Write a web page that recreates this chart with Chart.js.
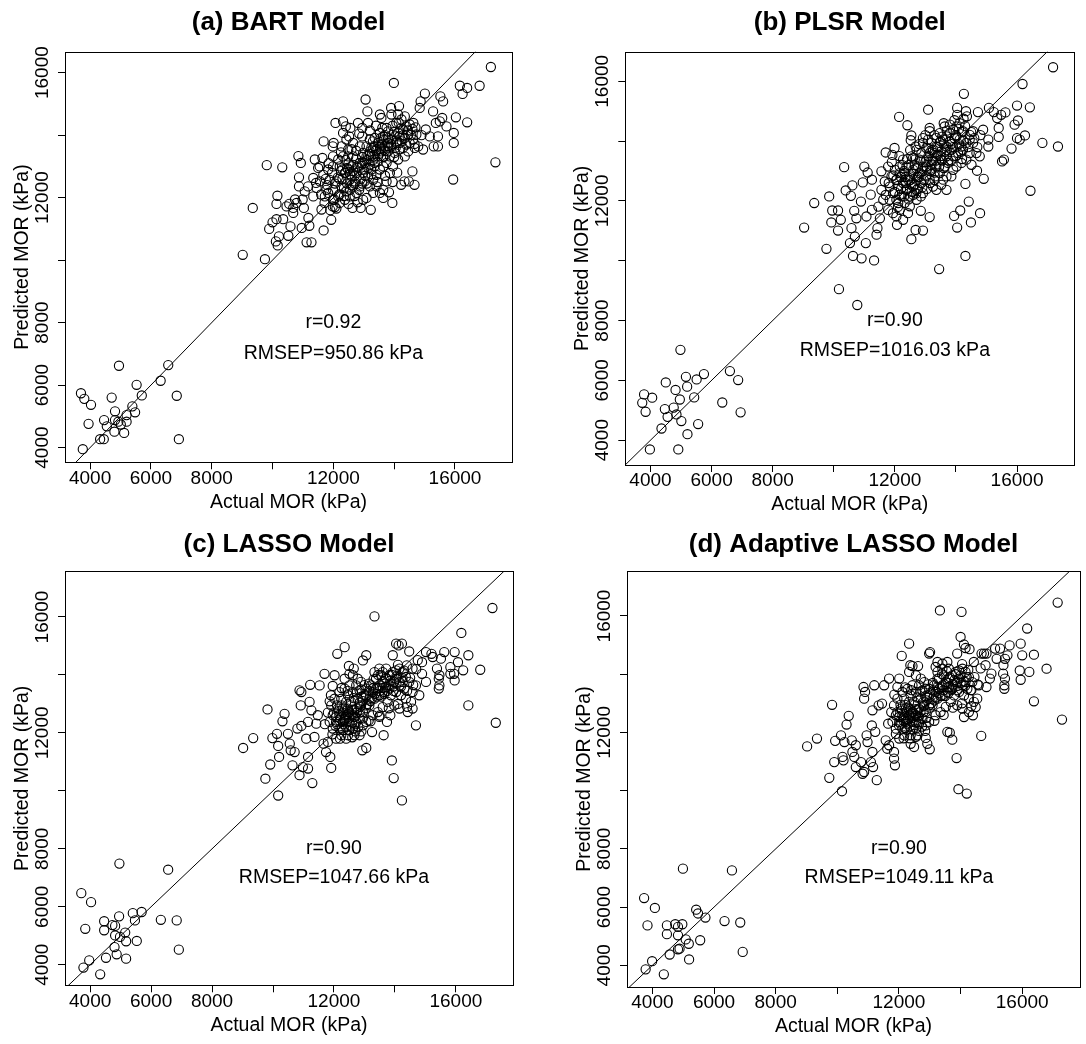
<!DOCTYPE html>
<html><head><meta charset="utf-8">
<script src="https://cdn.jsdelivr.net/npm/chart.js@4.4.1/dist/chart.umd.min.js"></script>
<style>
html,body{margin:0;padding:0;background:#fff;overflow:hidden;width:1086px;height:1044px;}
canvas{position:absolute;}
</style></head><body>
<canvas id="ca" width="543" height="522" style="left:0;top:0"></canvas>
<canvas id="cb" width="543" height="522" style="left:543px;top:0"></canvas>
<canvas id="cc" width="543" height="522" style="left:0;top:522px"></canvas>
<canvas id="cd" width="543" height="522" style="left:543px;top:522px"></canvas>
<script>
// ---------- DATA ----------
const xTickValues = [4000, 6000, 8000, 10000, 12000, 14000, 16000];
const xTickLabels = ['4000', '6000', '8000', '', '12000', '', '16000'];
const yTickValues = [4000, 6000, 8000, 10000, 12000, 14000, 16000];
const yTickLabels = ['4000', '6000', '8000', '', '12000', '', '16000'];
const xRange = [3175, 17875];
const bartYRange = [3530, 16670];
const plsrYRange = [3170, 16990];
const lassoYRange = [3290, 17577];
const alassoYRange = [3254, 17546];
const refLine = [2000, 20000];
const noteX = 12000;
const noteY = [8000, 7000];
const panelTitles = ['(a) BART Model', '(b) PLSR Model', '(c) LASSO Model', '(d) Adaptive LASSO Model'];
const rTexts = ['r=0.92', 'r=0.90', 'r=0.90', 'r=0.90'];
const rmsepTexts = ['RMSEP=950.86 kPa', 'RMSEP=1016.03 kPa', 'RMSEP=1047.66 kPa', 'RMSEP=1049.11 kPa'];

// (a) BART: [actual, predicted]
const bartPoints = [
[3700,5740],[3810,5560],[4030,5370],[4710,5600],[4950,6620],[5530,6010],[5700,5670],[6570,6640],[6320,6140],[6850,5660],[6920,4270],[3950,4760],[3760,3950],[4330,4270],[4450,4270],[4460,4880],[4550,4680],[4820,5160],[4820,4880],[4800,4510],[4930,4830],[5010,4740],[5120,4470],[5200,5040],[5200,4830],[5390,5320],[5480,5130],
[9020,10170],[9350,11670],[9750,10030],[9810,13040],[10320,12970],[10160,12060],[10130,11800],[10130,11310],[9890,11000],[10000,11210],[10110,10600],[10210,10760],[10170,10470],[10520,10780],[10350,11310],[10550,11800],[10590,11080],[10680,11510],[10740,11940],[10850,13330],[10930,13110],[10870,12650],[10870,12360],[10990,11940],[11030,11670],[10960,11030],[11120,10570],[11280,10570],[11210,11100],[11180,11350],[11340,12040],[11430,12470],[11390,13220],[11500,12950],[11640,13270],[11680,13800],[11610,11620],[11680,10950],[11710,11830],[11770,12250],[11960,12790],[11980,13640],[12010,13750],[12070,14390],[11980,11720],[11930,11290],[12030,11940],[12320,14440],[12410,14280],[12520,13960],[12560,14230],[12810,14390],[12630,11670],[12900,11670],[13090,11990],[13230,11610],[12950,13960],[13060,15140],[13120,14760],[13140,14390],[12950,14230],[13530,14660],[13580,14550],[13610,14230],[13900,14870],[13990,15670],[14160,14930],[13910,14660],[14130,14660],[13940,11830],[13830,12170],[14230,12410],[14340,12520],[14480,12520],[14670,12410],[14600,12840],[14790,13640],[14950,13540],[14870,15080],[15010,15330],[14840,14870],[14630,14390],[15040,14180],[15280,14760],[15520,15240],[15610,15080],[15500,14440],[15370,14390],[15580,14550],[15440,13960],[15440,13640],[15300,13640],[15720,14280],[15960,14070],[16030,14570],[15960,13750],[15940,12580],[16160,15580],[16250,15320],[16400,15510],[16400,14410],[16810,15580],[17180,16180],[17330,13130],[15170,13960],[14670,13720],
[12210,13000],[12380,12790],[12540,12570],[12100,12520],[12270,12360],[12430,12200],[12650,12360],[12760,12790],[12870,13110],[12650,13320],[12490,13540],[12320,13320],[12160,13220],[11990,13000],[11880,12570],[11830,12150],[11990,12250],[12160,12040],[12380,11930],[12540,12040],[12760,12150],[12870,12360],[13030,12520],[13140,12680],[13250,12900],[13360,13110],[13470,13320],[13580,13480],[13690,13640],[13800,13750],[13910,13860],[14020,13960],[14130,14070],[14290,14180],[14400,14280],[14510,14340],[14180,13750],[14290,13590],[14020,13430],[13860,13320],[13750,13110],[13640,13000],[13530,12900],[13420,12730],[13310,12570],[13200,12360],[13420,12360],[13640,12250],[13750,12520],[13860,12790],[13960,13000],[14130,13220],[14350,13320],[14460,13480],[14620,13860],[14730,14020],[14460,14020],[14240,14500],[14350,14600],[14070,14390],[13800,14120],[13640,13960],[13470,13750],[13310,13590],[13200,13480],[13090,13320],[12980,13430],[12870,13640],[12650,13750],[12430,13860],[12270,13640],[12320,14070],[12490,13320],[12600,13000],[12810,12950],[12980,12790],[13030,13110],[13200,13060],[13310,13320],[13420,13540],[13530,13640],[13640,13320],[13800,13480],[13910,13640],[14070,13750],[14180,13960],[14350,13910],[14510,13750],[14680,13590],[13200,13860],[13360,13910],[13530,14070],[13750,14230],[13090,13640],[12600,12680],[12710,12520],[12490,12900],[11990,13320],[11830,12900],[11670,12730],[11560,12520],[11450,12310],[11720,12040],[11990,11930],[12210,11830],[11340,12630],[11170,12360],[11060,12200],[10790,11830],[10680,11670],[10460,11720],[12980,11930],[13310,12150],[13530,12150],[13640,11990],
[12300,12600],[12400,12800],[12500,13100],[12600,12400],[12700,12700],[12800,13000],[12350,12300],[12450,12950],[12550,12750],[12650,13050],[12250,12850],[12150,12650],[12700,12450],[12900,12600],[13000,12900],[13100,13200],[13200,13400],[13300,13200],[13400,13500],[13500,13400],[13600,13700],[13700,13500],[13800,13900],[13900,13700],[14000,14100],[14100,13800],[14200,14200],[13650,13850],[13350,13650],[13150,12950],[12050,12450],[12950,13300],
[11600,12100],[11750,12600],[11850,13100],[11900,11600],[12050,11700],[12200,12100],[12250,13450],[12400,13200],[12350,12050],[12550,12250],[12600,13550],[12750,13250],[12700,12050],[12850,12250],[12950,12450],[13050,12700],[12950,13100],[13150,13350],[13250,12750],[13350,13000],[13300,13800],[13450,13150],[13550,13550],[13650,13300],[13700,14000],[13850,13600],[13950,14300],[14050,13600],[14150,14400],[14250,13800],[14300,14000],[14400,13700],[14450,14150],[14550,14000],[14600,14200],[14100,12800],[13950,12500],[13700,12700],[13450,12500],[12800,11850],[12500,11800],[12100,11650],[11800,12400],[11550,13000],[12850,14050],[13200,14150],[13400,14300],[12750,13500],[12450,12450],[12300,12900],[12200,12600],[12650,12850],[13100,12450],[13250,13600],[13550,13900],[13800,13650],[14000,13300],[14200,13550],[14700,14250],[14900,14000]
];

// (b) PLSR
const plsrPoints = [
[3790,5530],[3730,5250],[3840,4950],[4055,5420],[3980,3690],[4360,4390],[4500,5930],[4470,5040],[4560,4780],[4820,5680],[4760,5090],[4850,4860],[4960,5360],[4910,3690],[4980,7020],[5010,4640],[5160,6120],[5200,5790],[5210,4200],[5430,5430],[5510,6030],[5560,4540],[5750,6210],[6350,5260],[6600,6310],[6870,6010],[6950,4930],
[9030,11110],[9360,11930],[9760,10400],[9850,12150],[9950,11680],[9920,11280],[10140,11680],[10140,11010],[10170,9050],[10230,11370],[10340,13130],[10390,12350],[10560,12170],[10610,12520],[10670,11670],[10740,11420],[10770,8520],[10630,10160],[10910,10080],[10580,11090],[10530,10590],[10690,10810],[10890,11980],[10950,12620],[11000,13150],[11110,12950],[11250,12710],[11210,12210],[11250,11700],[11070,11480],[11050,10590],[11320,10010],[11400,10870],[11430,11090],[11510,11420],[11460,11810],[11560,12990],[11700,13620],[11990,13770],[11920,13540],[12140,14810],[12410,14530],[12540,14190],[12520,14030],[12680,13820],[12920,14100],[13090,15050],[13140,14440],[13140,14330],[12070,11200],[12430,11590],[12540,10720],[12680,11030],[12920,11010],[12850,11670],[13140,11460],[13450,9720],[13940,11500],[14040,11110],[14140,11680],[14310,10160],[14420,11980],[14490,11280],[14790,11590],[14310,12570],[14910,12740],[14690,13010],[14260,15580],[14040,15110],[14330,15000],[14360,14830],[14040,14880],[14720,14970],[15080,15110],[15240,14970],[15350,14770],[15620,14960],[15480,14880],[16000,15190],[16420,15130],[16180,15910],[16030,14690],[15920,14550],[16000,14100],[16090,14050],[16260,14190],[15820,13750],[15400,14440],[15400,14140],[15510,13320],[15570,13380],[16440,12340],[16830,13940],[17180,16470],[17340,13820],[15060,14050],[15060,13820],[14890,14380],[14560,14330],[14450,14210],
[11830,12480],[11940,12260],[12050,12040],[11890,12820],[12050,12710],[12160,12930],[12270,12600],[12380,12370],[12220,12150],[12110,11930],[12320,11930],[12490,12150],[12600,12480],[12490,12820],[12380,13150],[12270,13380],[12160,13150],[12000,13040],[12710,12710],[12820,12930],[12760,13150],[12650,13380],[12540,13490],[12920,13150],[13030,13380],[13140,13600],[13250,13710],[13360,13820],[13470,13940],[13580,14050],[13690,14160],[13800,14270],[13910,14380],[14020,14490],[14120,14600],[14230,14330],[14120,14050],[14020,13820],[13850,13710],[13690,13490],[13520,13380],[13360,13150],[13200,13040],[13030,12820],[12870,12600],[12710,12370],[13140,12710],[13310,12820],[13470,12930],[13630,13150],[13740,13270],[13910,13490],[14070,13600],[14230,13710],[14340,13940],[14450,13600],[14340,13380],[14180,13270],[13910,13040],[13690,12820],[13520,12540],[13360,12370],[13690,12370],[13470,14270],[13630,14490],[13800,14550],[13360,14100],[13200,13940],[13030,13770],[12870,13600],[12710,13710],[12920,13940],[13090,14050],[12820,13380],[12600,13040],[12430,12710],[12320,12930],[11830,12040],[11780,11700],[11940,11590],[12160,11700],[11620,12040],[11560,12370],[11670,12650],[11780,13150],[13690,13820],[13520,13660],[13360,13490],[13200,13380],[13030,13150],[14020,14160],[14180,13820],[14450,14050],[14560,13940],[14670,13600],[14780,13490],[14510,13210],[14020,13150],[13850,12820],[13580,12710],[13250,12480],[12490,11820],[12710,12040],[12920,12260],[12050,11480],[12270,11370],
[12100,12500],[12200,12800],[12300,13000],[12400,12400],[12500,12700],[12600,12900],[12700,13100],[12150,12200],[12350,12600],[12450,13200],[12550,12300],[12650,12550],[12800,12800],[12900,13000],[13000,13300],[13100,13500],[13200,13200],[13300,13600],[13400,13800],[13500,13500],[13600,13900],[13700,13700],[13800,14000],[13900,13800],[14000,14200],[14100,13900],[14200,14300],[13350,13350],[13550,14150],[12750,12400],[12050,12700],[13150,13000],
[11700,12200],[11800,12600],[11900,13300],[12000,12300],[12100,11800],[12200,12400],[12250,13200],[12350,12800],[12400,13400],[12450,12050],[12550,12550],[12650,13200],[12700,12250],[12750,12800],[12850,13350],[12900,12450],[12950,12700],[13050,13050],[13100,13750],[13150,12600],[13250,13350],[13300,12950],[13400,13550],[13450,13150],[13500,14000],[13550,13350],[13650,13650],[13700,14350],[13750,13350],[13850,13900],[13950,14100],[14000,13500],[14100,14400],[14150,13650],[14250,14000],[14300,14500],[14400,13800],[14500,14300],[14600,14100],[14700,13800],[14800,14200],[12300,12150],[12600,12200],[12850,12150],[13050,12400],[13300,12700],[13600,13100],[13850,13350],[14200,13400],[12150,13500],[12500,13700],[12800,13900],[13000,14200],[13300,14200],[13600,14600],[13950,14700],[14250,14750],[11950,12850],[12600,13450],[13200,13700]
];

// (c) LASSO
const lassoPoints = [
[3710,6470],[4030,6160],[3840,5240],[3780,3900],[3970,4150],[4330,3670],[4460,5500],[4460,5190],[4520,4240],[4730,5370],[4820,5340],[4820,5010],[4800,4610],[4870,4360],[4950,5670],[4980,4960],[4960,7490],[5150,5110],[5180,4810],[5180,4210],[5400,5780],[5470,5530],[5530,4820],[5690,5820],[6320,5550],[6560,7280],[6840,5530],[6910,4520],
[9020,11480],[9350,11820],[9750,10420],[9820,12810],[9910,10910],[9980,11820],[10130,11970],[10170,11550],[10170,9840],[10200,11170],[10380,12660],[10310,12400],[10490,11970],[10550,11630],[10580,11400],[10710,11340],[10640,10880],[10870,10540],[10800,12150],[10930,12240],[10870,13470],[10930,13410],[10910,12950],[10980,10820],[11150,11170],[11150,10770],[11290,10270],[11150,12380],[11090,11800],[11200,13070],[11260,12780],[11220,13660],[11360,11860],[11420,12320],[11470,12610],[11530,13640],[11690,14040],[11660,11630],[11740,11340],[11800,11690],[11880,11170],[11910,10790],[11860,13090],[11960,13620],[12020,13990],[12110,14730],[12350,14960],[12490,14310],[12650,14220],[12510,14040],[12350,13870],[13060,14680],[12950,14500],[13330,16020],[12840,11920],[12930,11400],[13060,11480],[13250,12030],[13140,12430],[13630,11920],[13490,12550],[13900,11050],[13960,10440],[14230,9670],[13740,12380],[13850,12610],[14040,15080],[14120,15020],[14230,15080],[13930,14680],[14470,14810],[14390,14330],[14580,14220],[14690,12260],[14750,14510],[14890,14440],[15020,14790],[15200,14730],[15240,14620],[15380,14220],[15510,14560],[15620,14790],[15460,13990],[15440,13870],[15460,13640],[15440,13530],[15020,13760],[14890,14040],[15960,14790],[16070,14440],[15940,14040],[15960,13810],[16180,15450],[16240,14160],[16410,14680],[16410,12950],[16800,14180],[17200,16310],[17310,12350],[15820,14270],[15820,14040],
[11960,12610],[12070,12380],[12180,12150],[12290,12380],[12400,12610],[12510,12380],[12620,12150],[12460,12840],[12290,12840],[12130,12840],[11960,12150],[11860,12380],[12620,12610],[12730,12840],[12560,13070],[12400,13070],[12240,13180],[12460,13300],[12620,13410],[12780,13180],[12890,12950],[12730,12380],[12840,12490],[12950,12720],[13060,12950],[13160,13180],[13270,13410],[13380,13530],[13490,13640],[13600,13760],[13710,13870],[13820,13990],[13930,14100],[14040,14160],[14150,14220],[14260,14100],[14360,13930],[14470,13760],[14310,13530],[14150,13640],[13980,13760],[13820,13530],[13660,13410],[13490,13300],[13330,13180],[13160,12950],[13000,13300],[12840,13470],[12730,13640],[12890,13760],[13060,13530],[13220,13640],[13380,13870],[13550,13990],[13710,13580],[13870,13300],[14040,13410],[14200,13300],[14360,13180],[14530,13070],[14580,12840],[14420,12720],[14150,12840],[13980,12950],[13760,13070],[13600,12890],[13440,12720],[13270,12610],[13060,12380],[12950,12260],[12670,11920],[12460,11920],[12240,11920],[12070,11800],[12510,13640],[12350,13530],[12180,13410],[12020,13180],[11910,12950],[12620,13990],[12780,13870],[13490,14220],[13710,14220],[13330,14100],[14040,13870],[14260,13760],[14690,13640],[14800,13300],[14580,13410],[12180,12610],[12350,12490],[12510,12720],[12670,12780],[12070,12550],
[12100,12300],[12200,12500],[12300,12700],[12400,12200],[12500,12500],[12600,12800],[12700,12300],[12150,12750],[12250,12150],[12350,12450],[12450,12650],[12550,12250],[12650,12550],[12750,12700],[12850,12900],[12950,13100],[13050,13300],[13150,13450],[13250,13200],[13350,13350],[13450,13550],[13550,13250],[13650,13700],[13750,13450],[13850,13800],[13950,13600],[14050,13950],[14150,13750],[14250,13900],[13100,13000],[12900,13500],[12250,12950],
[11700,12300],[11800,12700],[11900,13300],[11950,11950],[12050,12250],[12100,12950],[12200,12400],[12250,13550],[12300,12100],[12350,12850],[12400,12500],[12450,13450],[12500,12100],[12550,12950],[12600,12350],[12650,13200],[12700,12550],[12750,13400],[12800,12200],[12850,12700],[12900,13250],[12950,12500],[13000,13650],[13050,12850],[13150,13700],[13200,13100],[13300,13850],[13400,13250],[13450,14000],[13500,13450],[13600,14100],[13650,13350],[13700,13900],[13800,13650],[13900,14000],[13950,13450],[14050,13700],[14100,14350],[14200,13600],[14300,14150],[14400,13450],[14500,13900],[14600,13650],[14700,14200],[12200,11800],[12400,11800],[12600,11850],[12900,12050],[13200,12400],[13500,12600],[13800,12850],[14100,13000],[14400,12900],[12000,12700],[12300,12300],[12500,12700],[12700,12050],[12850,13050],[13300,13550],[13600,13550]
];

// (d) Adaptive LASSO
const alassoPoints = [
[3730,6310],[3840,5370],[3780,3860],[3990,4140],[4080,5970],[4370,3690],[4470,5370],[4470,5070],[4560,4370],[4740,5410],[4830,5320],[4830,5030],[4830,4550],[4880,4570],[4970,5410],[4990,7320],[5080,4890],[5180,4740],[5190,4200],[5420,5910],[5480,5780],[5550,4860],[5720,5640],[6340,5520],[6580,7260],[6850,5470],[6930,4460],
[9020,11520],[9340,11790],[9740,10440],[9830,12950],[9900,10980],[9930,11710],[10120,11900],[10150,9980],[10170,11160],[10200,11040],[10230,11670],[10370,12570],[10300,12270],[10470,11730],[10490,11330],[10550,11160],[10600,10810],[10600,11560],[10770,10980],[10820,10580],[10870,10640],[10950,11900],[10870,13160],[10850,13560],[10900,13390],[10980,11670],[11090,10980],[11140,11330],[11160,10810],[11280,10360],[11140,12760],[11200,13620],[11120,12240],[11230,12020],[11340,12930],[11450,12990],[11520,13620],[11680,13850],[11570,11730],[11620,11440],[11680,11560],[11840,11100],[11870,10870],[11840,11330],[11950,13560],[12010,13850],[12090,14630],[12330,15050],[12370,14310],[12440,14280],[12620,14280],[12330,14080],[12380,11610],[12490,11500],[12920,11610],[13000,11420],[12870,11810],[12980,14710],[13010,14760],[13330,16190],[13250,14420],[13410,14360],[13570,14420],[13190,14250],[13570,12020],[13650,11990],[13730,11750],[13870,11120],[13930,10050],[14200,9900],[14030,16140],[14000,15280],[14110,15020],[14160,14900],[14290,14860],[13890,14710],[14430,14420],[14680,14710],[14760,14710],[14810,14310],[14840,14710],[15120,14880],[15280,14880],[15170,14530],[15390,14310],[15440,14530],[15520,14650],[15590,14990],[15380,14020],[15440,13850],[15420,13620],[15420,13500],[14950,13850],[14840,13560],[15000,14020],[14670,11880],[15950,15050],[16000,14650],[15920,14130],[15950,13810],[16230,14080],[16160,15570],[16380,14670],[16380,13070],[16790,14190],[17150,16460],[17290,12440],[14540,13160],[14330,13450],[14490,12870],[14400,12590],[14110,12530],[14270,12700],
[11900,12590],[12010,12360],[12110,12130],[12220,12360],[12330,12590],[12440,12360],[12550,12130],[12380,12820],[12220,12820],[12060,12820],[11900,12130],[11790,12360],[12550,12590],[12650,12820],[12490,13050],[12330,13050],[12170,13160],[12380,13270],[12550,13390],[12710,13160],[12820,12930],[12650,12360],[12760,12470],[12870,12700],[12980,12930],[13090,13160],[13190,13390],[13300,13500],[13410,13620],[13520,13730],[13620,13850],[13730,13960],[13840,14080],[13950,14130],[14060,14190],[14160,14080],[14270,13900],[14380,13730],[14220,13500],[14060,13620],[13890,13730],[13730,13500],[13570,13390],[13410,13270],[13250,13160],[13090,12930],[12920,13270],[12760,13440],[12650,13620],[12820,13730],[12980,13500],[13140,13620],[13300,13850],[13460,13960],[13620,13560],[13790,13270],[13950,13390],[14110,13270],[14270,13160],[14430,13050],[14060,12820],[13890,12930],[13680,13050],[13520,12880],[13350,12700],[13190,12590],[12980,12360],[12870,12240],[12600,11900],[12380,11900],[12170,11900],[12010,11790],[12440,13620],[12280,13500],[12110,13390],[11950,13160],[11840,12930],[12550,13960],[12710,13850],[13410,14190],[13620,14190],[13250,14080],[13950,13850],[14160,13730],[14590,13620],[12110,12590],[12220,12470],[12440,12700],[12600,12760],[12010,12530],
[12050,12300],[12150,12500],[12250,12700],[12350,12200],[12450,12500],[12550,12800],[12650,12300],[12100,12750],[12200,12150],[12300,12450],[12400,12650],[12500,12250],[12600,12550],[12700,12700],[12800,12900],[12900,13100],[13000,13300],[13100,13450],[13200,13200],[13300,13350],[13400,13550],[13500,13250],[13600,13700],[13700,13450],[13800,13800],[13900,13600],[14000,13950],[14100,13750],[14200,13900],[13050,13000],[12850,13500],[12200,12950],
[11650,12300],[11750,12700],[11850,13300],[11900,11950],[12000,12250],[12050,12950],[12150,12400],[12200,13550],[12250,12100],[12300,12850],[12350,12500],[12400,13450],[12450,12100],[12500,12950],[12550,12350],[12600,13200],[12650,12550],[12700,13400],[12750,12200],[12800,12700],[12850,13250],[12900,12500],[12950,13650],[13000,12850],[13100,13700],[13150,13100],[13250,13850],[13350,13250],[13400,14000],[13450,13450],[13550,14100],[13600,13350],[13650,13900],[13750,13650],[13850,14000],[13900,13450],[14000,13700],[14050,14350],[14150,13600],[14250,14150],[14350,13450],[14450,13900],[14550,13650],[14650,14200],[12150,11800],[12350,11800],[12550,11850],[12850,12050],[13150,12400],[13450,12600],[13750,12850],[14050,13000],[14350,12900],[11950,12700],[12250,12300],[12450,12700],[12650,12050],[12800,13050],[13250,13550],[13550,13550]
];

// ---------- LAYOUT (pixels within each 543x522 panel) ----------
const CW = 543, CH = 522;
const panelBoxes = [
  {L: 65,   R: 512,   T: 51.7, B: 462.3},
  {L: 82.3, R: 531.3, T: 51.7, B: 465},
  {L: 65,   R: 513,   T: 49.3, B: 463.3},
  {L: 84,   R: 537,   T: 49,   B: 465}
];
const FONT = '"Liberation Sans", Arial, Helvetica, sans-serif';
Chart.defaults.font.family = FONT;
Chart.defaults.color = '#000';

const boxPlugin = {
  id: 'plotBox',
  afterDraw(chart) {
    const a = chart.chartArea, c = chart.ctx;
    c.save();
    c.strokeStyle = '#000'; c.lineWidth = 1;
    const l = Math.round(a.left) + 0.5, t = Math.round(a.top) + 0.5;
    const r = Math.round(a.right) + 0.5, b = Math.round(a.bottom) + 0.5;
    c.strokeRect(l, t, r - l, b - t);
    c.restore();
  }
};
const notePlugin = {
  id: 'note',
  afterDatasetsDraw(chart, args, opts) {
    const {ctx, scales: {x, y}} = chart;
    ctx.save();
    ctx.font = '19.5px ' + FONT;
    ctx.fillStyle = '#000';
    ctx.textAlign = 'center';
    ctx.textBaseline = 'middle';
    opts.lines.forEach((t, i) => ctx.fillText(t, x.getPixelForValue(noteX), y.getPixelForValue(noteY[i])));
    ctx.restore();
  }
};

function makePanel(canvasId, idx, points, yRange) {
  const bx = panelBoxes[idx];
  const titleCenter = 22.7, titleSize = 26;
  const gridOpts = {display: true, drawOnChartArea: false, drawTicks: true, tickLength: 7, color: '#000', lineWidth: 1};
  new Chart(document.getElementById(canvasId), {
    type: 'scatter',
    data: {
      datasets: [
        {data: points.map(([x, y]) => ({x, y})), pointRadius: 4.6, pointHoverRadius: 4.6,
         pointBorderWidth: 1.1, pointBackgroundColor: 'rgba(0,0,0,0)', pointBorderColor: '#000'},
        {data: refLine.map(v => ({x: v, y: v})), showLine: true, borderColor: '#000', borderWidth: 1,
         pointRadius: 0, pointHoverRadius: 0, fill: false, clip: 0}
      ]
    },
    options: {
      responsive: false, animation: false, events: [], devicePixelRatio: 1,
      layout: {padding: {top: 0, left: 0, right: CW - bx.R, bottom: 0}},
      plugins: {
        legend: {display: false}, tooltip: {enabled: false},
        title: {display: true, text: panelTitles[idx], fullSize: false, color: '#000',
                font: {size: titleSize, weight: 'bold', lineHeight: 1},
                padding: {top: titleCenter - titleSize / 2, bottom: bx.T - (titleCenter - titleSize / 2) - titleSize}},
        note: {lines: [rTexts[idx], rmsepTexts[idx]]}
      },
      scales: {
        x: {
          type: 'linear', position: 'bottom', min: xRange[0], max: xRange[1],
          afterFit(s) { s.height = CH - bx.B; },
          afterBuildTicks(s) { s.ticks = xTickValues.map(v => ({value: v})); },
          ticks: {autoSkip: false, minRotation: 0, maxRotation: 0, padding: -2.2, font: {size: 19}, color: '#000',
                  callback: (v, i) => xTickLabels[i]},
          grid: gridOpts, border: {display: false},
          title: {display: true, text: 'Actual MOR (kPa)', color: '#000', font: {size: 19.5, lineHeight: 1},
                  padding: {top: 0, bottom: CH - (bx.B + 40) - 9.75}}
        },
        y: {
          type: 'linear', position: 'left', min: yRange[0], max: yRange[1],
          afterFit(s) { s.width = bx.L; },
          afterBuildTicks(s) { s.ticks = yTickValues.map(v => ({value: v})); },
          ticks: {autoSkip: false, minRotation: 90, maxRotation: 90, crossAlign: 'center', padding: -10.9,
                  font: {size: 19}, color: '#000', callback: (v, i) => yTickLabels[i]},
          grid: gridOpts, border: {display: false},
          title: {display: true, text: 'Predicted MOR (kPa)', color: '#000', font: {size: 19.5, lineHeight: 1},
                  padding: {top: bx.L - 42.5 - 9.75, bottom: 0}}
        }
      }
    },
    plugins: [boxPlugin, notePlugin]
  });
}

makePanel('ca', 0, bartPoints, bartYRange);
makePanel('cb', 1, plsrPoints, plsrYRange);
makePanel('cc', 2, lassoPoints, lassoYRange);
makePanel('cd', 3, alassoPoints, alassoYRange);
</script>
</body></html>
